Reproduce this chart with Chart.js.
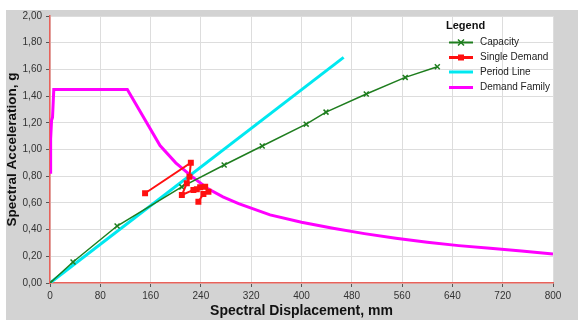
<!DOCTYPE html>
<html>
<head>
<meta charset="utf-8">
<script src="https://cdn.jsdelivr.net/npm/chart.js@4.4.1/dist/chart.umd.min.js"></script>
<style>
  html, body { margin: 0; padding: 0; background: #ffffff; }
  #wrap { width: 578px; height: 320px; position: relative; }
</style>
</head>
<body>
<div id="wrap"><canvas id="c" width="578" height="320"></canvas></div>
<script>
// ---- Data ----
const xTickValues = [0, 80, 160, 240, 320, 400, 480, 560, 640, 720, 800];
const yTickValues = [0, 0.2, 0.4, 0.6, 0.8, 1.0, 1.2, 1.4, 1.6, 1.8, 2.0];

const capacitySd = [0, 36.6, 106.7, 209.6, 277, 337.5, 407.5, 439, 503, 565, 616];
const capacitySa = [0, 0.157, 0.427, 0.72, 0.884, 1.026, 1.19, 1.28, 1.416, 1.54, 1.62];

const singleDemandSd = [151.2, 224, 221.8, 217.6, 209.7, 228.1, 233.5, 238.8, 246.8, 252, 244, 236];
const singleDemandSa = [0.672, 0.901, 0.796, 0.747, 0.659, 0.697, 0.702, 0.717, 0.721, 0.684, 0.667, 0.609];

const periodLineSd = [0, 467];
const periodLineSa = [0, 1.69];

const demandFamilySd = [0, 0.5, 1.5, 2.5, 4, 6, 123, 175, 200, 225, 250, 275, 300, 350, 400, 450, 500, 550, 600, 650, 700, 750, 800];
const demandFamilySa = [0.83, 1.07, 1.08, 1.22, 1.24, 1.45, 1.45, 1.03, 0.90, 0.80, 0.71, 0.645, 0.595, 0.51, 0.455, 0.41, 0.37, 0.335, 0.305, 0.28, 0.26, 0.24, 0.217];

const seriesNames = ['Capacity', 'Single Demand', 'Period Line', 'Demand Family'];

function pts(xs, ys) { return xs.map((x, i) => ({x: x, y: ys[i]})); }

const COLORS = {
  capacity: '#1e7d1e',
  single: '#ff1010',
  period: '#00e8f0',
  demand: '#ff00ff'
};

const bgPlugin = {
  id: 'bg',
  beforeDraw(chart) {
    const ctx = chart.ctx;
    const a = chart.chartArea;
    ctx.save();
    ctx.fillStyle = '#ffffff';
    ctx.fillRect(0, 0, chart.width, chart.height);
    ctx.fillStyle = '#d3d3d3';
    ctx.fillRect(6, 10, chart.width - 6, chart.height - 10);
    ctx.fillStyle = '#ffffff';
    ctx.fillRect(a.left, a.top, a.right - a.left, a.bottom - a.top);
    ctx.restore();
  }
};

const legendPlugin = {
  id: 'customLegend',
  afterDraw(chart) {
    const ctx = chart.ctx;
    ctx.save();
    ctx.fillStyle = '#111';
    ctx.font = 'bold 11px "Liberation Sans", Arial, sans-serif';
    ctx.textBaseline = 'middle';
    ctx.textAlign = 'left';
    ctx.fillText('Legend', 446, 25.5);
    const items = [
      {name: seriesNames[0], color: COLORS.capacity, marker: 'x', lw: 2},
      {name: seriesNames[1], color: COLORS.single, marker: 'sq', lw: 3},
      {name: seriesNames[2], color: COLORS.period, marker: null, lw: 3},
      {name: seriesNames[3], color: COLORS.demand, marker: null, lw: 3}
    ];
    const ys = [42.5, 57.5, 72, 87.5];
    ctx.font = '10px "Liberation Sans", Arial, sans-serif';
    items.forEach((it, i) => {
      const y = ys[i];
      ctx.strokeStyle = it.color;
      ctx.lineWidth = it.lw;
      ctx.beginPath();
      ctx.moveTo(449, y);
      ctx.lineTo(473, y);
      ctx.stroke();
      if (it.marker === 'x') {
        ctx.lineWidth = 1.5;
        ctx.beginPath();
        ctx.moveTo(458, y - 3); ctx.lineTo(464, y + 3);
        ctx.moveTo(464, y - 3); ctx.lineTo(458, y + 3);
        ctx.stroke();
      } else if (it.marker === 'sq') {
        ctx.fillStyle = it.color;
        ctx.fillRect(458, y - 3, 6, 6);
      }
      ctx.fillStyle = '#222';
      ctx.fillText(it.name, 480, y);
    });
    ctx.restore();
  }
};

const tickFont = {family: '"Liberation Sans", Arial, sans-serif', size: 10};

new Chart(document.getElementById('c'), {
  type: 'scatter',
  data: {
    datasets: [
      {
        label: seriesNames[1],
        data: pts(singleDemandSd, singleDemandSa),
        showLine: true,
        borderColor: COLORS.single,
        backgroundColor: COLORS.single,
        borderWidth: 2,
        pointStyle: 'rect',
        pointRadius: 2.8,
        tension: 0,
        order: 1
      },
      {
        label: seriesNames[0],
        data: pts(capacitySd, capacitySa),
        showLine: true,
        borderColor: COLORS.capacity,
        backgroundColor: COLORS.capacity,
        borderWidth: 1.5,
        pointStyle: 'crossRot',
        pointRadius: 3.5,
        pointBorderWidth: 1.5,
        tension: 0,
        order: 2
      },
      {
        label: seriesNames[2],
        data: pts(periodLineSd, periodLineSa),
        showLine: true,
        borderColor: COLORS.period,
        backgroundColor: COLORS.period,
        borderWidth: 3,
        pointRadius: 0,
        tension: 0,
        order: 3
      },
      {
        label: seriesNames[3],
        data: pts(demandFamilySd, demandFamilySa),
        showLine: true,
        borderColor: COLORS.demand,
        backgroundColor: COLORS.demand,
        borderWidth: 3,
        pointRadius: 0,
        tension: 0,
        order: 4
      }
    ]
  },
  options: {
    responsive: false,
    animation: false,
    devicePixelRatio: 1,
    layout: { padding: {top: 16, right: 25, left: 0, bottom: 0} },
    plugins: { legend: {display: false}, tooltip: {enabled: false} },
    scales: {
      x: {
        type: 'linear',
        min: 0, max: 800,
        afterBuildTicks(scale) { scale.ticks = xTickValues.map(v => ({value: v})); },
        afterFit(scale) { scale.height = 37; },
        ticks: { font: tickFont, color: '#333', padding: 3, maxRotation: 0,
                 callback: v => String(v) },
        grid: { color: '#dddddd', lineWidth: 1, tickLength: 4, tickColor: '#555' },
        border: { color: '#e8625a', width: 1.5 },
        title: { display: true, text: 'Spectral Displacement, mm', color: '#111',
                 font: {family: '"Liberation Sans", Arial, sans-serif', size: 14, weight: 'bold'},
                 padding: {top: 0, bottom: 0} }
      },
      y: {
        type: 'linear',
        min: 0, max: 2,
        afterBuildTicks(scale) { scale.ticks = yTickValues.map(v => ({value: v})); },
        afterFit(scale) { scale.width = 50; },
        ticks: { font: tickFont, color: '#333', padding: 4,
                 callback: v => Number(v).toFixed(2).replace('.', ',') },
        grid: { color: '#dddddd', lineWidth: 1, tickLength: 4, tickColor: '#555' },
        border: { color: '#e8625a', width: 1.5 },
        title: { display: true, text: 'Spectral Acceleration, g', color: '#111',
                 font: {family: '"Liberation Sans", Arial, sans-serif', size: 13.5, weight: 'bold'},
                 padding: {top: 4, bottom: 0} }
      }
    }
  },
  plugins: [bgPlugin, legendPlugin]
});
</script>
</body>
</html>
